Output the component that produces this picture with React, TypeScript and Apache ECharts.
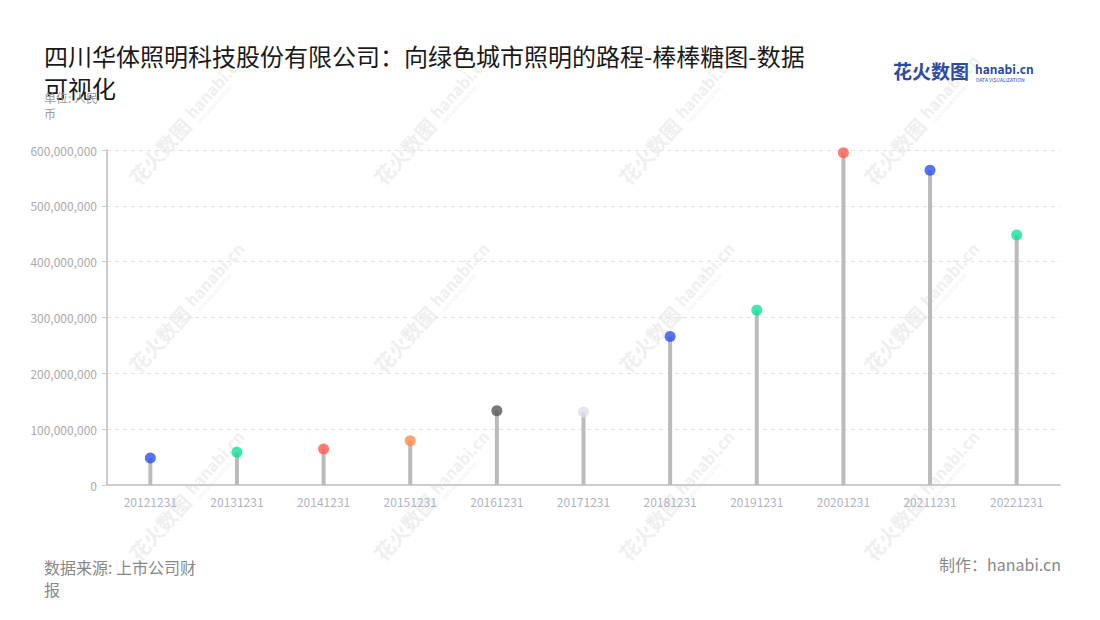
import React, { useEffect, useRef } from "react";
import * as echarts from "echarts";

const categories = [
  "20121231", "20131231", "20141231", "20151231", "20161231", "20171231",
  "20181231", "20191231", "20201231", "20211231", "20221231",
];
const values = [
  48500000, 58500000, 64600000, 79400000, 133000000, 130800000,
  265900000, 313200000, 595200000, 563700000, 447900000,
];
const dotColors = [
  "#3050ec", "#12e09e", "#ff5a50", "#ff8c4c", "#55555f", "#dde0ea",
  "#3050ec", "#12e09e", "#ff5a50", "#3050ec", "#12e09e",
];
const yTicks = { min: 0, max: 600000000, interval: 100000000 };

const titleText = "四川华体照明科技股份有限公司：向绿色城市照明的路程-棒棒糖图-数据可视化";
const unitText = "单位: 人民币";
const sourceLines = ["数据来源: 上市公司财", "报"];
const makerText = "制作：hanabi.cn";

const FONT = "'Noto Sans CJK SC', 'Noto Sans', sans-serif";
const WM = "#efefef";

function watermark(cx: number, cy: number) {
  return {
    type: "group",
    x: cx,
    y: cy,
    rotation: (48 * Math.PI) / 180,
    silent: true,
    z: 0,
    children: [
      {
        type: "text",
        x: -78,
        y: 0,
        style: { text: "花火数图", font: `bold 20px ${FONT}`, fill: WM, verticalAlign: "middle" },
      },
      {
        type: "text",
        x: 8,
        y: -3,
        style: { text: "hanabi.cn", font: `bold 16px ${FONT}`, fill: WM, verticalAlign: "middle" },
      },
      {
        type: "text",
        x: 9,
        y: 9,
        style: { text: "DATA VISUALIZATION", font: `5px ${FONT}`, fill: WM, verticalAlign: "middle" },
      },
    ],
  };
}

export default function App() {
  const ref = useRef<HTMLDivElement>(null);
  useEffect(() => {
    if (!ref.current) return;
    const chart = echarts.init(ref.current, undefined, { renderer: "svg" });
    const marks: any[] = [];
    const xs = [185, 430, 675, 920];
    const ys = [123, 311, 499];
    ys.forEach((y) => xs.forEach((x) => marks.push(watermark(x, y))));

    chart.setOption({
      animation: false,
      backgroundColor: "#ffffff",
      title: [
        {
          text: titleText,
          left: 39,
          top: 34,
          textStyle: {
            fontFamily: FONT,
            fontSize: 24,
            fontWeight: "normal",
            color: "#1a1a1a",
            width: 770,
            overflow: "break",
            lineHeight: 32,
          },
        },
      ],
      graphic: [
        ...marks,
        {
          type: "text",
          left: 44,
          top: 89,
          z: 10,
          style: {
            text: unitText,
            font: `12px ${FONT}`,
            fill: "#9a9a9a",
            width: 62,
            overflow: "break",
            lineHeight: 16,
          },
        },
        {
          type: "text",
          left: 44,
          top: 556,
          z: 10,
          style: {
            text: sourceLines.join("\n"),
            font: `16px ${FONT}`,
            fill: "#888888",
            lineHeight: 22,
          },
        },
        {
          type: "text",
          right: 39,
          top: 556,
          z: 10,
          style: { text: makerText, font: `16px ${FONT}`, fill: "#888888" },
        },
        {
          type: "text",
          left: 893,
          top: 61,
          z: 10,
          style: { text: "花火数图", font: `bold 19px ${FONT}`, fill: "#2c4aa6" },
        },
        {
          type: "text",
          left: 975,
          top: 62,
          z: 10,
          style: { text: "hanabi.cn", font: `bold 12px ${FONT}`, fill: "#2c4aa6" },
        },
        {
          type: "text",
          left: 976,
          top: 77,
          z: 10,
          style: { text: "DATA VISUALIZATION", font: `5px ${FONT}`, fill: "#2c4aa6" },
        },
      ],
      grid: { left: 107, right: 40, top: 150, bottom: 135, containLabel: false },
      xAxis: {
        type: "category",
        data: categories,
        axisLine: { lineStyle: { color: "#cccccc", width: 2 } },
        axisTick: { alignWithLabel: true, lineStyle: { color: "#cccccc" }, length: 5 },
        axisLabel: { color: "#b0b4bf", fontSize: 12, fontFamily: FONT, margin: 10 },
      },
      yAxis: {
        type: "value",
        min: yTicks.min,
        max: yTicks.max,
        interval: yTicks.interval,
        axisLine: { show: true, lineStyle: { color: "#cccccc", width: 2 } },
        axisTick: { show: true, length: 5, lineStyle: { color: "#cccccc" } },
        axisLabel: {
          color: "#aaaaaa",
          fontSize: 12,
          fontFamily: FONT,
          margin: 10,
          formatter: (v: number) => v.toLocaleString("en-US"),
        },
        splitLine: { lineStyle: { color: "#e2e2e2", type: [4, 4] } },
      },
      series: [
        {
          type: "bar",
          data: values,
          barWidth: 4,
          itemStyle: { color: "#bbbbbb" },
          z: 2,
        },
        {
          type: "scatter",
          data: values.map((v, i) => ({ value: v, itemStyle: { color: dotColors[i] } })),
          symbolSize: 11,
          z: 3,
        },
      ],
    });
    return () => chart.dispose();
  }, []);
  return <div ref={ref} style={{ width: 1100, height: 620, margin: -8 }} />;
}
